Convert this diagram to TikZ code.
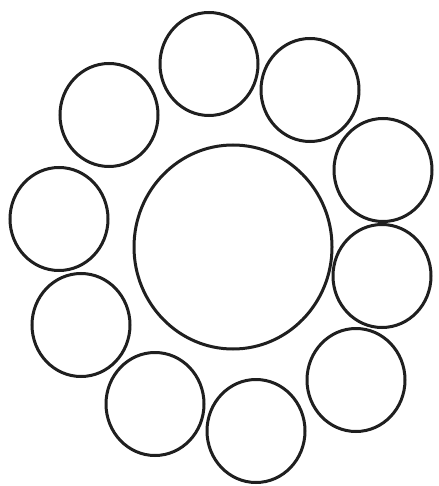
\documentclass[tikz,border=0pt]{standalone}
\usetikzlibrary{shapes.geometric}
\begin{document}
\begin{tikzpicture}[x=1pt,y=-1pt,
  ring/.style={draw=black!88, line width=3pt, ellipse, inner sep=0pt, minimum width=98pt, minimum height=103pt},
  core/.style={draw=black!88, line width=3pt, ellipse, inner sep=0pt, minimum width=198pt, minimum height=204pt}]
\useasboundingbox[fill=white] (0,0) rectangle (438,486);
\node[core] (big) at (233,247) {};
\node[ring] (c1) at (209,64) {};
\node[ring] (c2) at (310,90) {};
\node[ring] (c3) at (109,115) {};
\node[ring] (c4) at (383,170) {};
\node[ring] (c5) at (59,219) {};
\node[ring] (c6) at (382,276) {};
\node[ring] (c7) at (81,325) {};
\node[ring] (c8) at (356,380) {};
\node[ring] (c9) at (155,404) {};
\node[ring] (c10) at (256,431) {};
\end{tikzpicture}
\end{document}
